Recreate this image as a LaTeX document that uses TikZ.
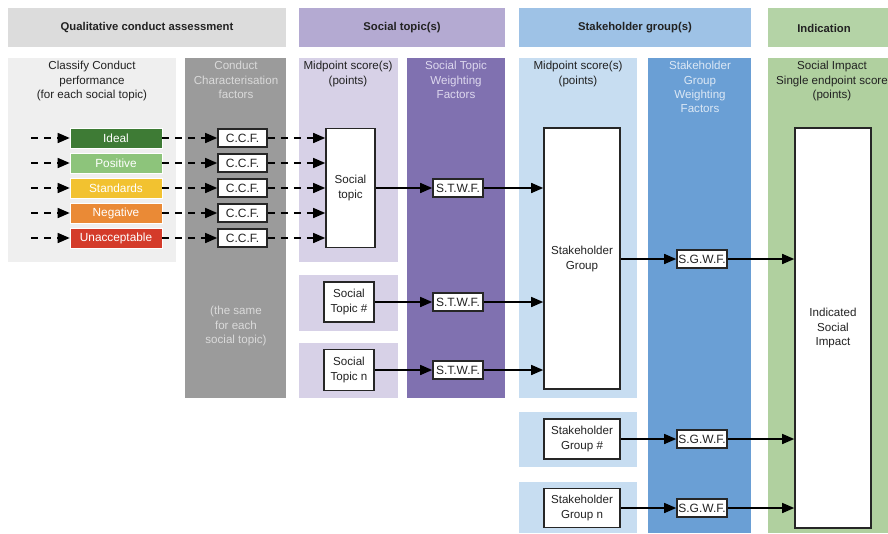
\documentclass[tikz,border=0pt]{standalone}
\usepackage{fontspec}
\setmainfont{Liberation Sans}
\usetikzlibrary{arrows.meta}
\definecolor{hdrgray}{HTML}{DCDCDC}
\definecolor{hdrpurple}{HTML}{B4AAD2}
\definecolor{hdrblue}{HTML}{9EC2E6}
\definecolor{hdrgreen}{HTML}{B4D3A6}
\definecolor{colclass}{HTML}{EFEFEF}
\definecolor{colccf}{HTML}{9B9B9B}
\definecolor{colst}{HTML}{D7D1E7}
\definecolor{colstwf}{HTML}{8071B0}
\definecolor{colsg}{HTML}{C7DDF1}
\definecolor{colsgwf}{HTML}{6A9FD5}
\definecolor{colind}{HTML}{B0D09F}
\definecolor{cideal}{HTML}{3E7B35}
\definecolor{cpos}{HTML}{8DC47B}
\definecolor{cstd}{HTML}{F2C230}
\definecolor{cneg}{HTML}{EA8A36}
\definecolor{cuna}{HTML}{D43B2A}
\definecolor{txtdark}{HTML}{222222}
\definecolor{txtccf}{HTML}{DADADA}
\definecolor{txtstwf}{HTML}{DDD8EE}
\definecolor{txtsgwf}{HTML}{DCE8F5}
\begin{document}
\begin{tikzpicture}[x=1pt,y=-1pt,
  font=\fontsize{11.6}{14.4}\selectfont,
  hdr/.style={font=\fontsize{11.3}{13}\selectfont\bfseries, text=txtdark},
  coltxt/.style={align=center, text=txtdark, anchor=north, inner sep=0pt},
  level/.style={minimum width=92pt, minimum height=20pt, inner sep=0pt, text=white, draw=white, line width=0.6pt, font=\fontsize{11.8}{14}\selectfont},
  wbox/.style={draw=black!85, fill=white, line width=1.6pt, inner sep=0pt, align=center, text=txtdark},
  fac/.style={wbox, minimum width=49pt, minimum height=18pt, font=\fontsize{12}{14}\selectfont},
  conn/.style={line width=1.5pt, -{Triangle[length=12pt,width=10pt]}},
  dconn/.style={conn, dash pattern=on 7pt off 6pt}
]
\useasboundingbox (0,0) rectangle (888,533);
% header bars
\fill[hdrgray] (8,8) rectangle (286,47);
\fill[hdrpurple] (299,8) rectangle (505,47);
\fill[hdrblue] (519,8) rectangle (751,47);
\fill[hdrgreen] (768,8) rectangle (888,47);
\node[hdr] (h1) at (147,28) {Qualitative conduct assessment};
\node[hdr] (h2) at (402,28) {Social topic(s)};
\node[hdr] (h3) at (635,28) {Stakeholder group(s)};
\node[hdr] (h4) at (824,28) {Indication};
% column backgrounds
\fill[colclass] (8,58) rectangle (176,262);
\fill[colccf] (185,58) rectangle (286,398);
\fill[colst] (299,58) rectangle (398,262);
\fill[colst] (299,275) rectangle (398,331);
\fill[colst] (299,343) rectangle (398,398);
\fill[colstwf] (407,58) rectangle (505,398);
\fill[colsg] (519,58) rectangle (637,398);
\fill[colsg] (519,412) rectangle (637,467);
\fill[colsg] (519,482) rectangle (637,533);
\fill[colsgwf] (648,58) rectangle (751,533);
\fill[colind] (768,58) rectangle (888,533);
% column texts
\node[coltxt] (t1) at (92,61) {Classify Conduct\\performance\\(for each social topic)};
\node[coltxt, text=txtccf] (t2) at (236,61) {Conduct\\Characterisation\\factors};
\node[coltxt, text=txtccf] (t2b) at (236,306) {(the same\\for each\\social topic)};
\node[coltxt] (t3) at (348,61) {Midpoint score(s)\\(points)};
\node[coltxt, text=txtstwf] (t4) at (456,61) {Social Topic\\Weighting\\Factors};
\node[coltxt] (t5) at (578,61) {Midpoint score(s)\\(points)};
\node[coltxt, text=txtsgwf] (t6) at (700,61) {Stakeholder\\Group\\Weighting\\Factors};
\node[coltxt] (t7) at (832,61) {Social Impact\\Single endpoint score\\(points)};
% level boxes
\node[level, fill=cideal] (l1) at (116,138) {Ideal};
\node[level, fill=cpos] (l2) at (116,163) {Positive};
\node[level, fill=cstd] (l3) at (116,188) {Standards};
\node[level, fill=cneg] (l4) at (116,213) {Negative};
\node[level, fill=cuna] (l5) at (116,238) {Unacceptable};
% CCF boxes
\foreach \i/\y in {1/138,2/163,3/188,4/213,5/238}{
  \node[fac] (c\i) at (242.5,\y) {C.C.F.};
  \coordinate (in\i) at (31,\y);
}
% social topic boxes
\node[wbox, minimum width=49pt, minimum height=119pt] (st) at (350.5,188) {Social\\topic};
\node[wbox, minimum width=50pt, minimum height=40pt] (st2) at (349,302) {Social\\Topic \#};
\node[wbox, minimum width=50pt, minimum height=41pt] (st3) at (349,370) {Social\\Topic n};
\node[fac, minimum width=50pt] (w1) at (458,188) {S.T.W.F.};
\node[fac, minimum width=50pt] (w2) at (458,302) {S.T.W.F.};
\node[fac, minimum width=50pt] (w3) at (458,370) {S.T.W.F.};
% stakeholder boxes
\node[wbox, minimum width=76pt, minimum height=261pt] (sg) at (582,258.5) {};
\node[text=txtdark, align=center] (sgt) at (582,259) {Stakeholder\\Group};
\node[wbox, minimum width=76pt, minimum height=40pt] (sg2) at (582,439) {Stakeholder\\Group \#};
\node[wbox, minimum width=76pt, minimum height=39pt] (sg3) at (582,508) {Stakeholder\\Group n};
\node[fac, minimum width=50pt] (g1) at (702,259) {S.G.W.F.};
\node[fac, minimum width=50pt] (g2) at (702,439) {S.G.W.F.};
\node[fac, minimum width=50pt] (g3) at (702,508) {S.G.W.F.};
% indicated
\node[wbox, minimum width=76pt, minimum height=400pt] (ind) at (833,328) {};
\node[text=txtdark, align=center] (indt) at (833,328) {Indicated\\Social\\Impact};
% dashed arrows
\foreach \i in {1,...,5}{
  \draw[dconn] (in\i) -- (l\i.west);
  \draw[dconn] (l\i.east) -- (c\i.west);
  \draw[dconn] (c\i.east) -- (c\i.east -| st.west);
}
% solid arrows
\draw[conn] (st.east |- w1) -- (w1.west);
\draw[conn] (st2) -- (w2);
\draw[conn] (st3) -- (w3);
\draw[conn] (w1.east) -- (w1.east -| sg.west);
\draw[conn] (w2.east) -- (w2.east -| sg.west);
\draw[conn] (w3.east) -- (w3.east -| sg.west);
\draw[conn] (sg.east |- g1) -- (g1.west);
\draw[conn] (sg2) -- (g2);
\draw[conn] (sg3) -- (g3);
\draw[conn] (g1.east) -- (g1.east -| ind.west);
\draw[conn] (g2.east) -- (g2.east -| ind.west);
\draw[conn] (g3.east) -- (g3.east -| ind.west);
\end{tikzpicture}
\end{document}
